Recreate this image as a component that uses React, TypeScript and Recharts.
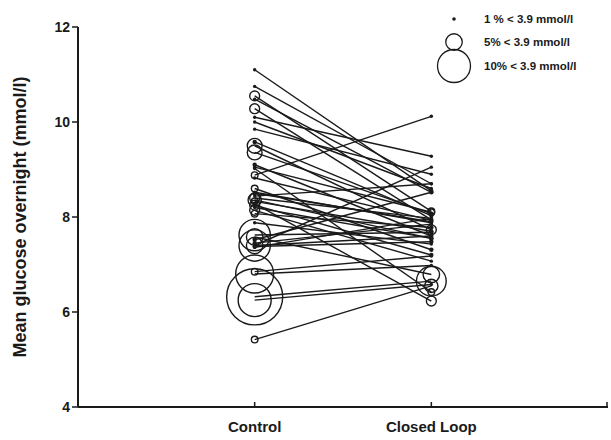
import React from 'react'
import { ScatterChart, Scatter, XAxis, YAxis } from 'recharts'

// mean overnight glucose (mmol/l), one pair per patient
const control = [11.1, 10.75, 10.55, 10.28, 10.1, 9.85, 9.5, 9.36, 9.1, 8.88, 8.6, 8.52, 8.4, 8.36, 8.25, 8.14, 8.07, 7.88, 7.62, 7.58, 7.4, 7.4, 7.38, 7.36, 6.85, 6.8, 6.32, 6.25, 5.42, 9.02, 8.28, 10.48, 9.58, 8.82, 8.44, 7.52, 8.5, 8.33, 9.05, 7.45, 8.2, 10.0]
const closedLoop = [8.55, 8.7, 8.12, 7.94, 9.28, 8.9, 7.73, 8.07, 7.6, 10.12, 7.31, 7.88, 7.97, 7.55, 7.2, 7.07, 7.78, 7.43, 7.68, 6.79, 9.05, 7.6, 7.48, 7.97, 7.18, 6.98, 6.65, 6.58, 6.55, 6.42, 6.23, 8.52, 8.03, 7.93, 8.7, 8.52, 7.9, 7.7, 8.1, 7.85, 7.55, 8.6]
// % of time < 3.9 mmol/l
const hypoControl = [0.5, 0.5, 3, 3, 0.5, 0.5, 4.5, 4.5, 1, 2, 2, 0.5, 3, 4, 3, 3, 2, 0.5, 9.5, 5, 9.5, 5, 1, 0.5, 2, 11.5, 17, 10, 2, 0.5, 1, 0.5, 1, 0.5, 0.5, 1, 1, 2, 0.5, 1, 0.5, 0.5]
const hypoClosed = [1, 0.5, 2, 1, 0.5, 0.5, 3, 1, 1, 0.5, 1, 0.5, 0.5, 1, 1, 0.5, 1, 0.5, 1, 5, 0.5, 0.5, 1, 0.5, 0.5, 0.5, 9, 0.5, 4, 2, 3, 0.5, 1, 0.5, 0.5, 1, 1, 1, 2, 0.5, 1, 0.5]

const groups = ['Control', 'Closed Loop']
const yTicks = [4, 6, 8, 10, 12]
const legendPct = [1, 5, 10]
const legendText = ['1 % < 3.9 mmol/l', '5% < 3.9 mmol/l', '10% < 3.9 mmol/l']

const INK = '#1a1a1a'
const FONT = '"Liberation Sans", Arial, sans-serif'

const radius = (p: number) => (p < 1.5 ? 1.2 + p : 1.65 * p)

function Marker(props: any) {
  const { cx, cy, payload } = props
  if (cx == null || cy == null) return null
  const p = payload.p
  const r = radius(p)
  if (p < 1.5) return <circle cx={cx} cy={cy} r={r} fill={INK} />
  return <circle cx={cx} cy={cy} r={r} fill="none" stroke={INK} strokeWidth={1.4} />
}

function XTick(props: any) {
  const { x, y, payload } = props
  const label = groups[payload.value - 1] ?? ''
  return (
    <g>
      <line x1={x} y1={y} x2={x} y2={y - 5} stroke={INK} strokeWidth={1.5} />
      <text x={x} y={y + 25} textAnchor="middle" fontFamily={FONT} fontWeight="bold" fontSize={15} fill={INK}>
        {label}
      </text>
    </g>
  )
}

function SizeLegend() {
  const ys = [19, 42, 66]
  return (
    <svg width={170} height={90} style={{ position: 'absolute', left: 444, top: 0, overflow: 'visible' }}>
      {legendPct.map((p, i) => (
        <g key={p}>
          {p < 1.5 ? (
            <circle cx={10} cy={ys[i]} r={1.8} fill={INK} />
          ) : (
            <circle cx={10} cy={ys[i]} r={radius(p)} fill="none" stroke={INK} strokeWidth={1.3} />
          )}
          <text x={40} y={ys[i]} dy="0.35em" fontFamily={FONT} fontWeight="bold" fontSize={11.5} fill={INK}>
            {legendText[i]}
          </text>
        </g>
      ))}
    </svg>
  )
}

export default function App() {
  const pairs = control.map((c, i) => [
    { x: 1, y: c, p: hypoControl[i] },
    { x: 2, y: closedLoop[i], p: hypoClosed[i] },
  ])

  return (
    <div style={{ position: 'absolute', left: 0, top: 0, width: 611, height: 440, background: '#fff' }}>
      <ScatterChart width={611} height={440} margin={{ top: 27, right: 3, bottom: 0, left: 0 }}>
        <XAxis
          type="number"
          dataKey="x"
          domain={[0, 3]}
          ticks={[1, 2, 3]}
          height={33}
          tickSize={0}
          tickMargin={0}
          tick={<XTick />}
          axisLine={{ stroke: INK, strokeWidth: 2 }}
          allowDataOverflow
        />
        <YAxis
          type="number"
          dataKey="y"
          domain={[4, 12]}
          ticks={yTicks}
          width={78}
          tickSize={6}
          tickLine={{ stroke: INK, strokeWidth: 1.5 }}
          axisLine={{ stroke: INK, strokeWidth: 2 }}
          tick={{ fill: INK, fontFamily: FONT, fontWeight: 'bold', fontSize: 14 }}
          label={{
            value: 'Mean glucose overnight (mmol/l)',
            angle: -90,
            position: 'insideLeft',
            offset: 20,
            style: { textAnchor: 'middle', fill: INK, fontFamily: FONT, fontWeight: 'bold', fontSize: 18 },
          }}
          allowDataOverflow
        />
        {pairs.map((d, i) => (
          <Scatter
            key={i}
            data={d}
            line={{ stroke: INK, strokeWidth: 1.4 }}
            shape={<Marker />}
            isAnimationActive={false}
            legendType="none"
          />
        ))}
      </ScatterChart>
      <SizeLegend />
    </div>
  )
}
